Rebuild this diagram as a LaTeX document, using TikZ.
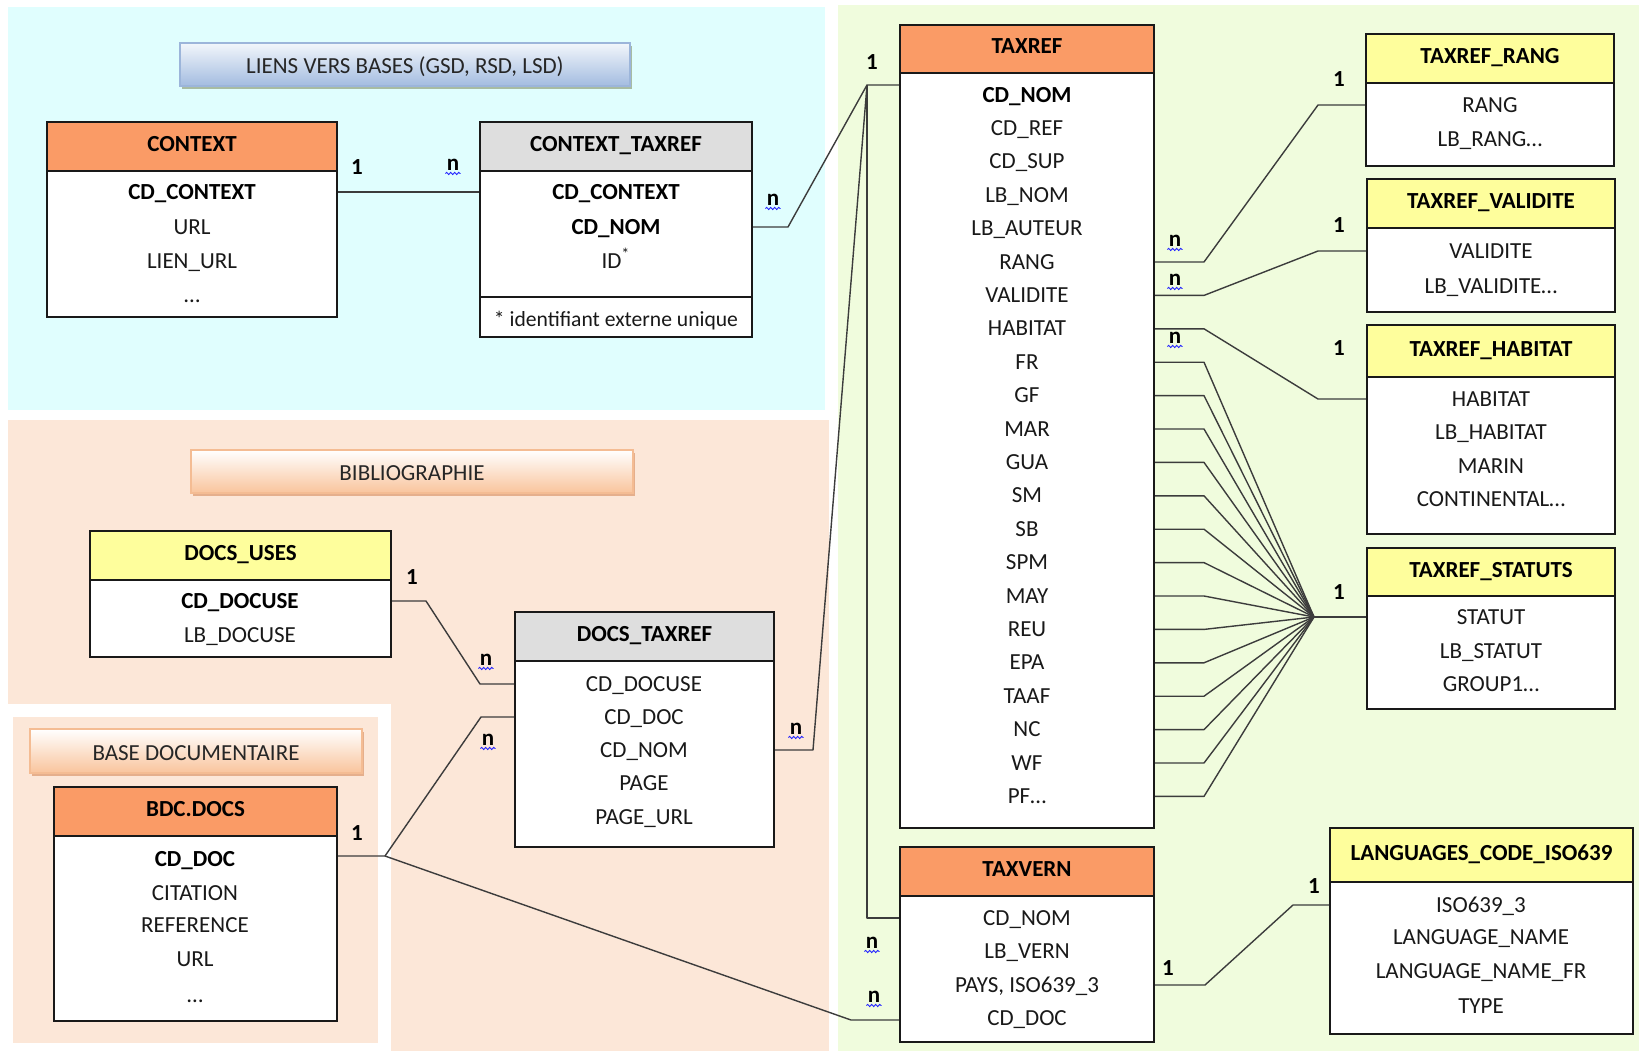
\documentclass[tikz,border=0pt]{standalone}
\usepackage{fontspec}
\setmainfont{Carlito}
\usetikzlibrary{fit,shadows,decorations.pathmorphing}

\definecolor{bgcyan}{HTML}{E0FEFE}
\definecolor{bggreen}{HTML}{F0FCDD}
\definecolor{bgpeach}{HTML}{FCE7D8}
\definecolor{hdorange}{HTML}{FA9B66}
\definecolor{hdyellow}{HTML}{FEFE9C}
\definecolor{hdgray}{HTML}{DEDEDE}
\definecolor{lnk}{HTML}{3C3C3C}
\definecolor{bluetop}{HTML}{F2F6FB}
\definecolor{bluebot}{HTML}{A3BCE0}
\definecolor{blueedge}{HTML}{9CB5DA}
\definecolor{peachbot}{HTML}{F9C49C}
\definecolor{peachedge}{HTML}{F4BC93}
\definecolor{shadowg}{HTML}{A3B59A}
\definecolor{shadowp}{HTML}{E3AA84}

\newcommand\nmark[2]{\node[card] (#1) at (#2) {n};
  \draw[squig] ([yshift=-0.7pt]#1.south west) -- ([yshift=-0.7pt]#1.south east);}

\begin{document}
\begin{tikzpicture}[x=0.5pt,y=-0.5pt,
 every node/.style={font=\fontsize{11.5}{13}\selectfont, text=black!90},
 box/.style={draw=black!90, line width=1pt, inner sep=0pt, fill=white},
 fld/.style={inner sep=0pt, text height=8.5pt, text depth=1.5pt},
 htxt/.style={fld, font=\fontsize{11.5}{13}\selectfont\bfseries, text=black},
 key/.style={fld, font=\fontsize{11.5}{13}\selectfont\bfseries, text=black},
 link/.style={draw=lnk, line width=0.7pt, line join=round},
 card/.style={font=\fontsize{11.5}{13}\selectfont\bfseries, text=black, inner sep=0.5pt},
 squig/.style={draw=blue!85, line width=0.45pt, decorate, decoration={snake, segment length=2pt, amplitude=0.55pt}},
 banner/.style={inner sep=0pt, line width=0.6pt},
 btxt/.style={fld, text=black!85},
]
\path[fill=white] (0,0) rectangle (1639,1051);
% zones
\fill[bgcyan] (8,7) rectangle (825,410);
\fill[bggreen] (838,5) rectangle (1639,1051);
\fill[bgpeach] (8,420) rectangle (829,1051);
\fill[white] (8,704) rectangle (391,1051);
\fill[bgpeach] (13,717) rectangle (378,1043);

% banners
\node[banner, fit={(180,43)(630,86)}, top color=bluetop, bottom color=bluebot, draw=blueedge,
  drop shadow={shadow xshift=0.8pt, shadow yshift=-1.4pt, fill=shadowg, opacity=0.9}] (bLiens) {};
\node[btxt] at ([yshift=-1pt]bLiens.center) {LIENS VERS BASES (GSD, RSD, LSD)};
\node[banner, fit={(191,450)(633,493)}, top color=white, bottom color=peachbot, draw=peachedge,
  drop shadow={shadow xshift=0.8pt, shadow yshift=-1.4pt, fill=shadowp, opacity=0.9}] (bBib) {};
\node[btxt] at ([yshift=-1pt]bBib.center) {BIBLIOGRAPHIE};
\node[banner, fit={(30,729)(362,773)}, top color=white, bottom color=peachbot, draw=peachedge,
  drop shadow={shadow xshift=0.8pt, shadow yshift=-1.4pt, fill=shadowp, opacity=0.9}] (bBase) {};
\node[btxt] at ([yshift=-1pt]bBase.center) {BASE DOCUMENTAIRE};

% CONTEXT
\node[box, fit={(47,171)(337,317)}] (ctxB) {};
\node[box, fill=hdorange, fit={(47,122)(337,171)}] (ctxH) {};
\node[htxt] at ([yshift=1pt]ctxH.center) {CONTEXT};
\node[key] (ctx1) at (192,192) {CD\_CONTEXT};
\node[fld] (ctx2) at (192,227) {URL};
\node[fld] (ctx3) at (192,261) {LIEN\_URL};
\node[fld] (ctx4) at (192,295) {…};

% CONTEXT_TAXREF
\node[box, fit={(480,171)(752,297)}] (ctB) {};
\node[box, fit={(480,297)(752,337)}] (ctF) {};
\node[fld, font=\fontsize{10.8}{12}\selectfont] at ([yshift=-1pt]ctF.center) {* identifiant externe unique};
\node[box, fill=hdgray, fit={(480,122)(752,171)}] (ctH) {};
\node[htxt] at ([yshift=1pt]ctH.center) {CONTEXT\_TAXREF};
\node[key] (ct1) at (616,192) {CD\_CONTEXT};
\node[key] (ct2) at (616,227) {CD\_NOM};
\node[fld] (ct3) at (616,261) {ID\textsuperscript{*}};

% TAXREF
\node[box, fit={(900,73)(1154,828)}] (taxB) {};
\node[box, fill=hdorange, fit={(900,25)(1154,73)}] (taxH) {};
\node[htxt] at ([yshift=1.3pt]taxH.center) {TAXREF};
\node[key] (tx0) at (1027,95) {CD\_NOM};
\foreach \t [count=\i] in {CD\_REF, CD\_SUP, LB\_NOM, LB\_AUTEUR, RANG, VALIDITE, HABITAT, FR, GF, MAR, GUA, SM, SB, SPM, MAY, REU, EPA, TAAF, NC, WF, PF…}
  \node[fld] (tx\i) at (1027,{95+33.4*\i}) {\t};

% TAXREF_RANG
\node[box, fit={(1366,83)(1614,166)}] (rgB) {};
\node[box, fill=hdyellow, fit={(1366,34)(1614,83)}] (rgH) {};
\node[htxt] at ([yshift=1pt]rgH.center) {TAXREF\_RANG};
\node[fld] (rg1) at (1490,105) {RANG};
\node[fld] (rg2) at (1490,139) {LB\_RANG…};

% TAXREF_VALIDITE
\node[box, fit={(1367,228)(1615,312)}] (vaB) {};
\node[box, fill=hdyellow, fit={(1367,179)(1615,228)}] (vaH) {};
\node[htxt] at ([yshift=1pt]vaH.center) {TAXREF\_VALIDITE};
\node[fld] (va1) at (1491,251) {VALIDITE};
\node[fld] (va2) at (1491,286) {LB\_VALIDITE…};

% TAXREF_HABITAT
\node[box, fit={(1367,377)(1615,534)}] (hbB) {};
\node[box, fill=hdyellow, fit={(1367,325)(1615,377)}] (hbH) {};
\node[htxt] at ([yshift=1pt]hbH.center) {TAXREF\_HABITAT};
\node[fld] (hb1) at (1491,399) {HABITAT};
\node[fld] (hb2) at (1491,432) {LB\_HABITAT};
\node[fld] (hb3) at (1491,466) {MARIN};
\node[fld] (hb4) at (1491,499) {CONTINENTAL…};

% TAXREF_STATUTS
\node[box, fit={(1367,596)(1615,709)}] (stB) {};
\node[box, fill=hdyellow, fit={(1367,548)(1615,596)}] (stH) {};
\node[htxt] at ([yshift=1pt]stH.center) {TAXREF\_STATUTS};
\node[fld] (st1) at (1491,617) {STATUT};
\node[fld] (st2) at (1491,651) {LB\_STATUT};
\node[fld] (st3) at (1491,684) {GROUP1…};

% TAXVERN
\node[box, fit={(900,896)(1154,1042)}] (tvB) {};
\node[box, fill=hdorange, fit={(900,847)(1154,896)}] (tvH) {};
\node[htxt] at ([yshift=1pt]tvH.center) {TAXVERN};
\node[fld] (tv1) at (1027,918) {CD\_NOM};
\node[fld] (tv2) at (1027,951) {LB\_VERN};
\node[fld] (tv3) at (1027,985) {PAYS, ISO639\_3};
\node[fld] (tv4) at (1027,1018) {CD\_DOC};

% LANGUAGES_CODE_ISO639
\node[box, fit={(1330,882)(1633,1034)}] (lgB) {};
\node[box, fill=hdyellow, fit={(1330,828)(1633,882)}] (lgH) {};
\node[htxt] at ([yshift=1pt]lgH.center) {LANGUAGES\_CODE\_ISO639};
\node[fld] (lg1) at (1481,905) {ISO639\_3};
\node[fld] (lg2) at (1481,937) {LANGUAGE\_NAME};
\node[fld] (lg3) at (1481,971) {LANGUAGE\_NAME\_FR};
\node[fld] (lg4) at (1481,1006) {TYPE};

% DOCS_USES
\node[box, fit={(90,580)(391,657)}] (duB) {};
\node[box, fill=hdyellow, fit={(90,531)(391,580)}] (duH) {};
\node[htxt] at ([yshift=1pt]duH.center) {DOCS\_USES};
\node[key] (du1) at (240,601) {CD\_DOCUSE};
\node[fld] (du2) at (240,635) {LB\_DOCUSE};

% DOCS_TAXREF
\node[box, fit={(515,661)(774,847)}] (dtB) {};
\node[box, fill=hdgray, fit={(515,612)(774,661)}] (dtH) {};
\node[htxt] at ([yshift=1pt]dtH.center) {DOCS\_TAXREF};
\node[fld] (dt1) at (644,684) {CD\_DOCUSE};
\node[fld] (dt2) at (644,717) {CD\_DOC};
\node[fld] (dt3) at (644,750) {CD\_NOM};
\node[fld] (dt4) at (644,783) {PAGE};
\node[fld] (dt5) at (644,817) {PAGE\_URL};

% BDC.DOCS
\node[box, fit={(54,836)(337,1021)}] (bdB) {};
\node[box, fill=hdorange, fit={(54,787)(337,836)}] (bdH) {};
\node[htxt] at ([yshift=1pt]bdH.center) {BDC.DOCS};
\node[key] (bd1) at (195,859) {CD\_DOC};
\node[fld] (bd2) at (195,893) {CITATION};
\node[fld] (bd3) at (195,925) {REFERENCE};
\node[fld] (bd4) at (195,959) {URL};
\node[fld] (bd5) at (195,995) {…};

% bend points
\coordinate (hub) at (867,85);
\coordinate (bsplit) at (385,856);
\coordinate (tvin) at (851,1020);
\coordinate (dtin) at (481,717);
\coordinate (duin) at (480,684);
\coordinate (rgin) at (1318,105);
\coordinate (vain) at (1318,251);
\coordinate (hbin) at (1318,399);
\coordinate (fan) at (1314,617);
\coordinate (lgin) at (1293,905);

% connectors
\draw[link] (ctxB.east |- ctx1) -- (ctB.west |- ctx1);
\draw[link] (ctB.east |- ct2) -- ++(35,0) -- (hub) -- (taxB.west |- hub);
\draw[link] (dtB.east |- dt3) -- ++(38,0) -- (hub);
\draw[link] (hub) -- (hub |- tv1) -- (tvB.west |- tv1);
\draw[link] (bdB.east |- bsplit) -- (bsplit) -- (tvin) -- (tvB.west |- tvin);
\draw[link] (bsplit) -- (dtin) -- (dtB.west |- dtin);
\draw[link] (duB.east |- du1) -- ++(34,0) -- (duin) -- (dtB.west |- duin);
\draw[link] (taxB.east |- tx5) -- ++(49,0) -- (rgin) -- (rgB.west |- rgin);
\draw[link] (taxB.east |- tx6) -- ++(49,0) -- (vain) -- (vaB.west |- vain);
\draw[link] (taxB.east |- tx7) -- ++(49,0) -- (hbin) -- (hbB.west |- hbin);
\foreach \i in {8,...,21}
  \draw[link] (taxB.east |- tx\i) -- ++(49,0) -- (fan);
\draw[link] (fan) -- (stB.west |- fan);
\draw[link] (tvB.east |- tv3) -- ++(50,0) -- (lgin) -- (lgB.west |- lgin);

% cardinalities
\node[card] (c1) at (357,167) {1};
\nmark{n1}{453,165}
\nmark{n2}{773,200}
\node[card] (c2) at (872,62) {1};
\nmark{n3}{796,729}
\nmark{n4}{872,943}
\nmark{n5}{874,997}
\node[card] (c3) at (357,833) {1};
\nmark{n6}{488,740}
\node[card] (c4) at (412,577) {1};
\nmark{n7}{486,660}
\nmark{n8}{1175,241}
\node[card] (c5) at (1339,79) {1};
\nmark{n9}{1175,280}
\node[card] (c6) at (1339,225) {1};
\nmark{n10}{1175,338}
\node[card] (c7) at (1339,348) {1};
\node[card] (c8) at (1339,592) {1};
\node[card] (c9) at (1168,968) {1};
\node[card] (c10) at (1314,886) {1};
\end{tikzpicture}
\end{document}
